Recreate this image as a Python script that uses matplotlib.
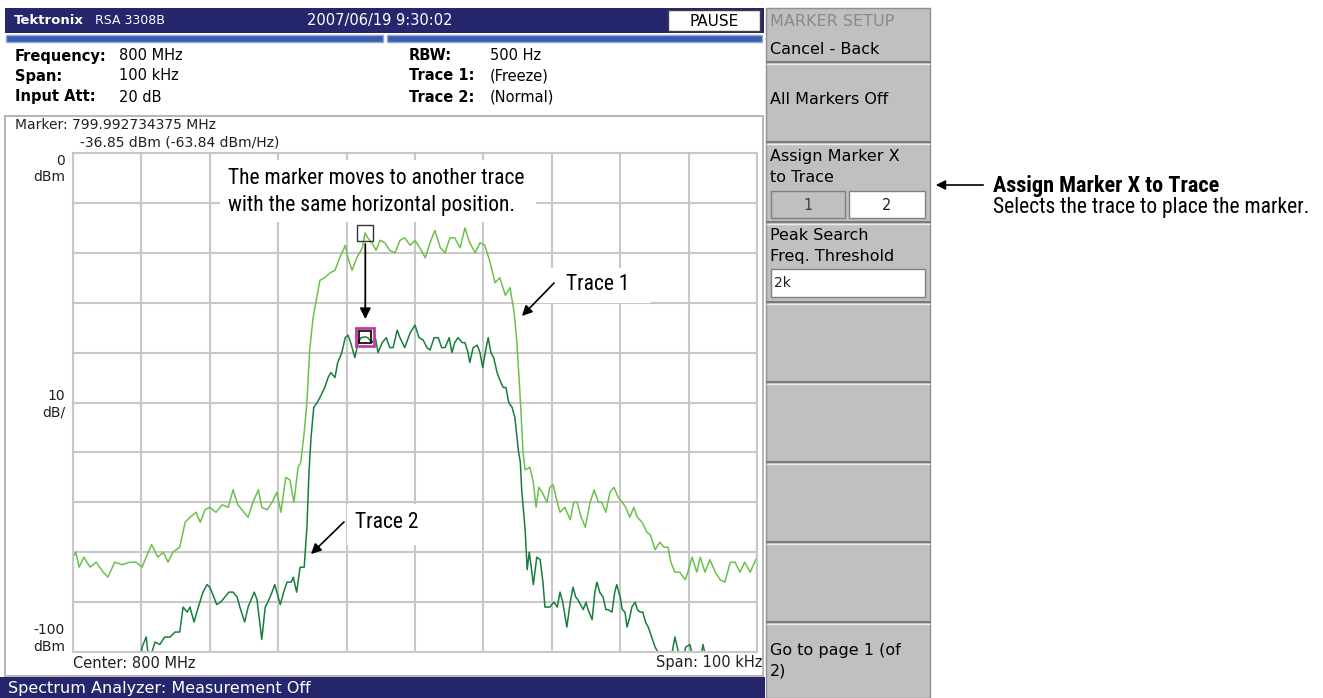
import matplotlib.pyplot as plt
import matplotlib.font_manager as fm
import numpy as np
from matplotlib.patches import Rectangle

W, H = 1323, 698

# Spectrum traces: offset from 800 MHz center (kHz) and level (dBm)
trace1_khz = [-50.0, -49.6, -49.1, -48.4, -47.5, -46.6, -45.6, -44.9, -43.9, -42.8,
              -41.7, -40.8, -39.9, -39.0, -38.5, -37.6, -36.8, -36.1, -35.4, -34.4,
              -33.6, -32.9, -32.0, -31.4, -30.7, -30.0, -29.1, -28.2, -27.3, -26.6,
              -25.9, -25.0, -24.4, -23.7, -22.9, -22.4, -21.6, -20.9, -20.2, -19.6,
              -18.9, -18.3, -17.7, -17.1, -16.7, -16.2, -15.8, -15.4, -14.9, -14.5,
              -13.9, -13.2, -12.4, -11.7, -11.0, -10.2, -9.8, -9.2, -8.5, -7.7,
              -7.3, -6.9, -6.3, -5.7, -5.1, -4.4, -3.7, -2.9, -2.2, -1.5,
              -0.7, 0.0, 0.7, 1.5, 2.2, 2.9, 3.7, 4.4, 5.1, 5.8,
              6.6, 7.3, 8.0, 8.8, 9.5, 10.2, 11.0, 11.7, 12.4, 13.2,
              13.9, 14.5, 14.9, 15.4, 15.8, 16.1, 16.8, 17.3, 17.7, 18.1,
              18.6, 19.3, 19.7, 20.2, 20.8, 21.2, 21.9, 22.7, 23.2, 23.7,
              24.3, 24.9, 25.6, 26.2, 26.8, 27.3, 27.9, 28.5, 29.1, 29.7,
              30.3, 30.8, 31.4, 32.0, 32.5, 33.2, 33.9, 34.4, 35.1, 35.8,
              36.4, 37.0, 37.4, 38.0, 38.7, 39.5, 39.9, 40.5, 41.2, 41.7,
              42.4, 43.1, 43.9, 44.6, 45.3, 46.1, 46.8, 47.5, 48.2, 49.0, 50.0]
trace1_dbm = [-81, -80, -83, -81, -83, -82, -84, -85, -82, -82.5,
              -82, -82, -83, -80, -78.5, -81, -80, -82, -80, -79,
              -74, -73, -72, -74, -71.5, -71, -72, -70.5, -71, -67.5,
              -70.5, -72, -73, -70, -67.5, -71, -71.5, -70, -68, -72,
              -65, -65.5, -70, -63, -62, -56, -50, -39.5, -33, -30,
              -25.5, -25, -24, -23.5, -21, -18.5, -21, -23.5, -21, -19,
              -16, -17, -18, -19.5, -17.5, -18, -19.5, -20, -17.5, -17,
              -18.5, -17.5, -19, -21, -18, -15.5, -19, -20, -17, -17,
              -19, -15, -18, -20, -18, -18.5, -22, -26, -25, -28.5,
              -27, -32, -38, -49.5, -60, -63.5, -63, -66, -71, -67,
              -68, -70, -67, -66.5, -70, -72, -71, -73.5, -70, -70,
              -73, -75, -70, -67.5, -70, -70, -72, -68, -67, -69,
              -70, -71, -73, -71, -73, -74, -76, -76.5, -79.5, -78,
              -79, -79, -82, -84, -84, -85.5, -84, -81, -84, -81,
              -84, -81.5, -84, -85.5, -86, -82, -82, -84, -82, -84, -81]

trace2_khz = [-50.0, -41.0, -40.2, -39.9, -39.3, -38.9, -38.0, -37.3, -36.6, -35.8,
              -35.1, -34.4, -33.9, -33.3, -32.9, -32.3, -31.9, -31.0, -30.4, -30.0,
              -29.4, -29.0, -28.4, -27.8, -27.2, -26.6, -26.0, -25.6, -24.9, -24.4,
              -24.1, -23.5, -23.1, -22.7, -22.4, -21.9, -21.5, -20.9, -20.5, -19.7,
              -19.2, -18.7, -18.1, -17.8, -17.3, -16.8, -16.2, -15.8, -15.5, -15.2,
              -14.8, -14.3, -13.9, -13.2, -12.7, -12.3, -11.7, -11.3, -10.7, -10.2,
              -9.8, -9.4, -8.8, -8.3, -7.9, -7.3, -6.9, -6.3, -5.8, -5.4,
              -4.8, -4.2, -3.7, -3.2, -2.6, -2.2, -1.5, -0.7, 0.0, 0.6,
              1.2, 1.75, 2.2, 2.8, 3.4, 3.9, 4.4, 5.0, 5.4, 5.8,
              6.3, 6.9, 7.3, 7.75, 8.0, 8.5, 9.1, 9.5, 9.9, 10.4,
              10.7, 11.1, 11.5, 12.0, 12.4, 12.9, 13.3, 13.7, 14.2, 14.6,
              15.1, 15.4, 15.6, 16.1, 16.4, 16.7, 17.0, 17.3, 17.8, 18.3,
              18.7, 19.0, 19.7, 20.3, 20.8, 21.2, 21.6, 22.2, 22.7, 23.1,
              23.5, 23.8, 24.6, 25.0, 25.3, 25.9, 26.3, 26.6, 27.0, 27.5,
              27.9, 28.2, 28.8, 29.2, 29.5, 30.0, 30.3, 30.7, 31.0, 31.4,
              31.7, 32.2, 32.5, 32.9, 33.3, 33.7, 34.1, 34.6, 35.1, 35.5,
              36.1, 37.0, 37.6, 38.0, 38.5, 39.0, 39.6, 40.2, 40.6, 41.7,
              42.1, 42.5, 43.4, 44.3, 44.9, 46.1, 46.8, 47.5, 48.1, 49.0, 50.0]
trace2_dbm = [-104, -104, -103, -99, -97, -102, -98, -98.5, -97, -97,
              -96, -96, -91, -92, -91, -94, -92, -88, -86.5, -87,
              -89, -90.5, -90, -89, -88, -88, -89, -91, -94, -91,
              -90, -88, -89.5, -94, -97.5, -91, -90, -88, -86.5, -90.5,
              -88, -86, -86, -85, -88, -83, -83, -75, -64, -57,
              -51, -50, -49, -47, -45, -44, -45, -42, -40, -37,
              -36.5, -38, -41, -38, -37, -36.85, -37, -38, -37, -40,
              -38, -37, -39, -39, -35.5, -37, -39, -36, -34.5, -37,
              -37.5, -39, -39.5, -37, -37, -39, -39, -37, -40, -38,
              -37, -38, -38, -40, -42, -39, -38.5, -40, -43, -39,
              -37, -40, -41, -44, -45.5, -47, -47, -50, -51, -53,
              -59.5, -62, -67.5, -75.5, -83.5, -80, -83, -86.5, -81, -81.5,
              -86, -91, -91, -90, -91, -88, -90, -95, -90, -87,
              -89, -89.5, -91.5, -90, -91.5, -93.5, -88, -86, -88, -89,
              -91.5, -91.5, -92, -88, -86.5, -89, -91.5, -92, -95, -93,
              -91, -90, -91.5, -92, -92, -94, -95, -97, -99, -100,
              -102, -103, -100, -97, -100, -102, -99, -98.5, -101, -102,
              -98.5, -101, -103, -101, -103, -102, -101, -100, -102, -103, -103]

# Marker: 799.992734375 MHz on trace 2
marker_mhz = 799.992734375
center_mhz = 800.0
marker_dbm = -36.85
marker_khz = (marker_mhz - center_mhz) * 1000
marker1_dbm = np.interp(marker_khz, trace1_khz, trace1_dbm)

navy = '#26266c'
menu_gray = '#c0c0c0'
grid_gray = '#c8c8c8'
screen_font = 'DejaVu Sans'


# callout font: a narrow sans if one is installed, else Liberation Sans a bit smaller
def pick_note_font(bold):
    want = 700 if bold else 400
    for f in fm.fontManager.ttflist:
        w = f.weight if isinstance(f.weight, int) else (700 if 'bold' in str(f.weight) else 400)
        if f.style != 'normal' or abs(w - want) > 100:
            continue
        if f.name == 'Liberation Sans Narrow' or (
                f.name in ('Roboto', 'Roboto Condensed', 'Open Sans', 'Noto Sans')
                and 'condensed' in str(f.stretch)):
            return fm.FontProperties(fname=f.fname), 1.0
    return fm.FontProperties(family='Liberation Sans',
                             weight='bold' if bold else 'normal'), 0.86


note_fp, note_k = pick_note_font(False)
note_bold_fp, note_bold_k = pick_note_font(True)

fig = plt.figure(figsize=(W / 100, H / 100), dpi=100)

# background layer in pixel coordinates
ui = fig.add_axes([0, 0, 1, 1])
ui.set_xlim(0, W)
ui.set_ylim(H, 0)
ui.axis('off')


def rect(a, x0, y0, x1, y1, fc, ec='none', lw=1.0, z=1):
    a.add_patch(Rectangle((x0, y0), x1 - x0, y1 - y0, facecolor=fc,
                          edgecolor=ec, linewidth=lw, zorder=z))


def txt(a, x, y, s, size=11, **kw):
    kw.setdefault('family', screen_font)
    kw.setdefault('va', 'center')
    a.text(x, y, s, fontsize=size, zorder=5, **kw)


def note(x, y, s, size, bold=False):
    fp = (note_bold_fp if bold else note_fp).copy()
    fp.set_size(size * (note_bold_k if bold else note_k))
    top.text(x, y, s, fontproperties=fp, va='center', zorder=5)


# header bar
rect(ui, 5, 8, 764, 33, navy)
txt(ui, 14, 20, 'Tektronix', 9.5, color='white', weight='bold')
txt(ui, 95, 20, 'RSA 3308B', 9, color='white')
txt(ui, 380, 20, '2007/06/19 9:30:02', 10.5, color='white', ha='center')
rect(ui, 668, 10, 760, 31, 'white', ec='#404040', z=2)
txt(ui, 714, 21, 'PAUSE', 11, color='black', ha='center')

# blue status strips
rect(ui, 6, 35, 383, 42, '#3a5db4', ec='#9aa6cc')
rect(ui, 387, 35, 762, 42, '#3a5db4', ec='#9aa6cc')

# measurement settings
rows = [56, 76, 97]
left_labels = ['Frequency:', 'Span:', 'Input Att:']
left_values = ['800 MHz', '100 kHz', '20 dB']
right_labels = ['RBW:', 'Trace 1:', 'Trace 2:']
right_values = ['500 Hz', '(Freeze)', '(Normal)']
for y, a, b, c, d in zip(rows, left_labels, left_values, right_labels, right_values):
    txt(ui, 15, y, a, 10.5, weight='bold')
    txt(ui, 119, y, b, 10.5)
    txt(ui, 409, y, c, 10.5, weight='bold')
    txt(ui, 490, y, d, 10.5)

# plot frame
rect(ui, 5, 116, 763, 676, 'white', ec='#a8a8a8', lw=1.2)
txt(ui, 15, 125, 'Marker: %.9f MHz' % marker_mhz, 10, color='#202020')
txt(ui, 80, 142, '%.2f dBm (-63.84 dBm/Hz)' % marker_dbm, 10, color='#202020')
txt(ui, 65, 161, '0', 10, ha='right', color='#202020')
txt(ui, 65, 177, 'dBm', 10, ha='right', color='#202020')
txt(ui, 65, 396, '10', 10, ha='right', color='#202020')
txt(ui, 65, 413, 'dB/', 10, ha='right', color='#202020')
txt(ui, 65, 630, '-100', 10, ha='right', color='#202020')
txt(ui, 65, 647, 'dBm', 10, ha='right', color='#202020')
txt(ui, 73, 663, 'Center: 800 MHz', 10.5, color='#202020')
txt(ui, 762, 663, 'Span: 100 kHz', 10.5, ha='right', color='#202020')

# bottom status bar
rect(ui, 0, 677, 765, 698, navy)
txt(ui, 8, 688, 'Spectrum Analyzer: Measurement Off', 11.5, color='white')

# side menu
rect(ui, 766, 8, 930, 698, menu_gray, ec='#909090')
for y in [62, 142, 222, 302, 382, 462, 542, 622]:
    ui.plot([767, 929], [y, y], color='#7a7a7a', lw=1.5, zorder=2)
    ui.plot([767, 929], [y + 2, y + 2], color='#ececec', lw=1, zorder=2)
txt(ui, 770, 21, 'MARKER SETUP', 11.5, color='#8a8a8a')
txt(ui, 770, 50, 'Cancel - Back', 11.5)
txt(ui, 770, 100, 'All Markers Off', 11.5)
txt(ui, 770, 157, 'Assign Marker X', 11.5)
txt(ui, 770, 177, 'to Trace', 11.5)
rect(ui, 771, 191, 845, 218, menu_gray, ec='#808080', z=2)
rect(ui, 849, 191, 925, 218, 'white', ec='#808080', z=2)
txt(ui, 808, 205, '1', 10.5, ha='center', color='#404040')
txt(ui, 887, 205, '2', 10.5, ha='center', color='#202020')
txt(ui, 770, 236, 'Peak Search', 11.5)
txt(ui, 770, 256, 'Freq. Threshold', 11.5)
rect(ui, 771, 269, 925, 297, 'white', ec='#808080', z=2)
txt(ui, 774, 283, '2k', 10, color='#202020')
txt(ui, 770, 651, 'Go to page 1 (of', 11.5)
txt(ui, 770, 671, '2)', 11.5)

# spectrum plot
ax = fig.add_axes([73 / W, (H - 652) / H, 684 / W, 499 / H])
ax.set_zorder(1)
ax.plot(trace1_khz, trace1_dbm, color='#6cc04c', lw=1.1)
ax.plot(trace2_khz, trace2_dbm, color='#177e3c', lw=1.1)
ax.plot([marker_khz], [marker1_dbm], marker='s', ms=11, mfc='none', mec='#333333',
        mew=1.0, ls='none')
ax.plot([marker_khz], [marker_dbm], marker='s', ms=13, mfc='none', mec='#c03c9c',
        mew=2.0, ls='none')
ax.plot([marker_khz], [marker_dbm], marker='s', ms=8, mfc='none', mec='black',
        mew=1.2, ls='none')
ax.annotate('', xy=(marker_khz, marker_dbm + 3.0), xytext=(marker_khz, marker1_dbm - 1.6),
            arrowprops=dict(arrowstyle='-|>', color='black', lw=1.3, mutation_scale=16))
ax.set_xlim(-50, 50)
ax.set_ylim(-100, 0)
ax.set_xticks(np.arange(-50, 51, 10))
ax.set_yticks(np.arange(-100, 1, 10))
ax.grid(True, color=grid_gray, lw=1.5)
ax.set_axisbelow(True)
ax.tick_params(length=0, labelbottom=False, labelleft=False)
for s in ax.spines.values():
    s.set_color(grid_gray)
    s.set_linewidth(1.5)

# callout layer
top = fig.add_axes([0, 0, 1, 1])
top.set_zorder(2)
top.set_xlim(0, W)
top.set_ylim(H, 0)
top.axis('off')
top.patch.set_alpha(0)

rect(top, 220, 160, 536, 222, 'white', z=1)
note(228, 178, 'The marker moves to another trace', 15.5)
note(228, 205, 'with the same horizontal position.', 15.5)
rect(top, 514, 268, 650, 303, 'white', z=1)
note(566, 285, 'Trace 1', 15.5)
top.annotate('', xy=(520, 318), xytext=(556, 281),
             arrowprops=dict(arrowstyle='-|>', color='black', lw=1.2, mutation_scale=15))
rect(top, 347, 504, 440, 545, 'white', z=1)
note(355, 523, 'Trace 2', 15.5)
top.annotate('', xy=(309, 556), xytext=(346, 520),
             arrowprops=dict(arrowstyle='-|>', color='black', lw=1.2, mutation_scale=15))

top.annotate('', xy=(933, 185), xytext=(986, 185),
             arrowprops=dict(arrowstyle='-|>', color='black', lw=1.2, mutation_scale=14))
note(993, 186, 'Assign Marker X to Trace', 16, bold=True)
note(993, 208, 'Selects the trace to place the marker.', 15.5)

fig.savefig('out.png', dpi=100)
